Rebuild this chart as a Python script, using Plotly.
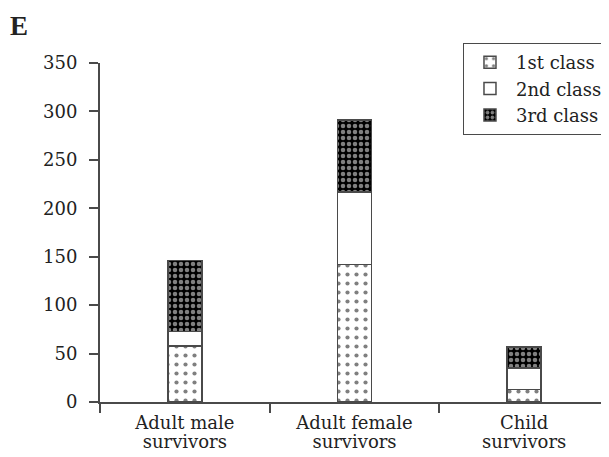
import plotly.graph_objects as go

categories = ["Adult male survivors", "Adult female survivors", "Child survivors"]
label_line1 = ["Adult male", "Adult female", "Child"]
label_line2 = ["survivors", "survivors", "survivors"]
first_class = [58, 142, 13]
second_class = [15, 75, 22]
third_class = [73, 74, 22]
series_names = ["1st class", "2nd class", "3rd class"]
y_ticks = [0, 50, 100, 150, 200, 250, 300, 350]

FONT = "DejaVu Serif"
TXT = "#222222"
LINE = "#4a4a4a"
xpos = list(range(len(categories)))

fig = go.Figure()
fig.add_trace(go.Bar(
    x=xpos, y=first_class, name=series_names[0], width=0.2,
    marker=dict(color="white", line=dict(color=LINE, width=1.5),
                pattern=dict(shape=".", fgcolor="black", bgcolor="white",
                             size=9, solidity=0.17, fillmode="overlay")),
))
fig.add_trace(go.Bar(
    x=xpos, y=second_class, name=series_names[1], width=0.2,
    marker=dict(color="white", line=dict(color=LINE, width=1.5)),
))
fig.add_trace(go.Bar(
    x=xpos, y=third_class, name=series_names[2], width=0.2,
    marker=dict(color="black", line=dict(color=LINE, width=1.5),
                pattern=dict(shape=".", fgcolor="white", bgcolor="black",
                             size=6, solidity=0.45, fillmode="overlay")),
))
# invisible traces on overlaying x-axes that carry the two-line category labels
fig.add_trace(go.Scatter(x=xpos, y=[0, 0, 0], xaxis="x2", mode="markers",
                         marker=dict(opacity=0), showlegend=False, hoverinfo="skip"))
fig.add_trace(go.Scatter(x=xpos, y=[0, 0, 0], xaxis="x3", mode="markers",
                         marker=dict(opacity=0), showlegend=False, hoverinfo="skip"))

lab_axis = dict(range=[-0.5, 2.5], overlaying="x", anchor="y", side="bottom",
                tickmode="array", tickvals=xpos, ticks="", showline=False,
                showgrid=False, zeroline=False,
                tickfont=dict(family=FONT, size=18, color=TXT))

# the page body has an 8px margin, so the figure is sized to fit the window
fig.update_layout(
    width=601, height=449,
    barmode="stack",
    paper_bgcolor="white", plot_bgcolor="white",
    margin=dict(l=92, r=0, t=55, b=55, autoexpand=False),
    font=dict(family=FONT, size=18, color=TXT),
    xaxis=dict(range=[-0.5, 2.5], tickmode="array", tickvals=[-0.5, 0.5, 1.5],
               ticktext=["", "", ""], ticks="outside", ticklen=9, tickwidth=2,
               tickcolor=LINE, showline=True, linecolor=LINE, linewidth=2,
               showgrid=False, zeroline=False),
    xaxis2=dict(lab_axis, ticktext=label_line1, ticklabelstandoff=8),
    xaxis3=dict(lab_axis, ticktext=label_line2, ticklabelstandoff=27),
    yaxis=dict(range=[0, 350], tickmode="array", tickvals=y_ticks,
               ticks="outside", ticklen=9, tickwidth=2, tickcolor=LINE,
               showline=True, linecolor=LINE, linewidth=2, showgrid=False,
               zeroline=False, ticklabelstandoff=8,
               tickfont=dict(family=FONT, size=18, color=TXT)),
    legend=dict(x=0.998, xanchor="right", y=1.059, yanchor="top", bordercolor=LINE,
                borderwidth=1, bgcolor="white", font=dict(family=FONT, size=18, color=TXT),
                itemwidth=42, tracegroupgap=0, traceorder="normal"),
)
fig.add_annotation(text="<b>E</b>", xref="paper", yref="paper", x=-0.181, y=1.16,
                   xanchor="left", yanchor="top", showarrow=False,
                   font=dict(family="Liberation Serif", size=27, color=TXT))
fig.write_html("out.html")
